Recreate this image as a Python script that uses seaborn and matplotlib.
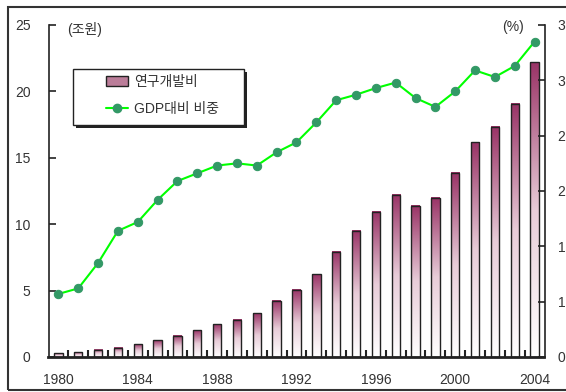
import numpy as np
import pandas as pd
import matplotlib
matplotlib.use('Agg')
import matplotlib.pyplot as plt
import seaborn as sns
from matplotlib.colors import LinearSegmentedColormap
from matplotlib.patches import Rectangle
from matplotlib.lines import Line2D

# Data
years = list(range(1980, 2005))
rd_spend = [0.28, 0.35, 0.53, 0.68, 0.95, 1.25, 1.60, 2.00, 2.46, 2.79,
            3.29, 4.22, 5.07, 6.23, 7.93, 9.49, 10.92, 12.22, 11.39, 12.00,
            13.88, 16.17, 17.34, 19.07, 22.19]
gdp_ratio = [0.57, 0.62, 0.85, 1.14, 1.22, 1.42, 1.59, 1.66, 1.73, 1.75,
             1.73, 1.85, 1.94, 2.12, 2.32, 2.37, 2.43, 2.48, 2.34, 2.26,
             2.40, 2.59, 2.53, 2.63, 2.85]
left_ticks = [0, 5, 10, 15, 20, 25]
right_ticks = [0, 0.5, 1.0, 1.5, 2.0, 2.5, 3.0]
right_ticklabels = ['0', '1', '1', '2', '2', '3', '3']
year_ticks = [1980, 1984, 1988, 1992, 1996, 2000, 2004]
bar_label = '연구개발비'
line_label = 'GDP대비 비중'

df = pd.DataFrame({'year': years, 'rd': rd_spend, 'ratio': gdp_ratio})

sns.set_style('white')
plt.rcParams['font.family'] = ['Liberation Sans', 'Noto Sans CJK KR', 'DejaVu Sans']
txt = '#333333'

fig = plt.figure(figsize=(5.66, 3.92), dpi=100)
ax = fig.add_axes([48.5 / 566, 35 / 392, 496 / 566, 332 / 392])

# bars, then paint a gradient inside each one
sns.barplot(data=df, x='year', y='rd', native_scale=True, width=0.42,
            color='#993366', ax=ax, zorder=3)
cmap = LinearSegmentedColormap.from_list('rd', ['#ffffff', '#e8ccd8', '#993366'])
grad = np.linspace(0, 1, 256).reshape(-1, 1)
for p in ax.patches:
    x0, y0 = p.get_x(), p.get_y()
    w, h = p.get_width(), p.get_height()
    p.set_facecolor('none')
    p.set_edgecolor('#222222')
    p.set_linewidth(1.0)
    ax.imshow(grad, extent=[x0, x0 + w, y0, y0 + h], origin='lower',
              cmap=cmap, aspect='auto', zorder=2, interpolation='bilinear')

ax.set_xlim(1979.5, 2004.5)
ax.set_ylim(0, 25)
ax.set_aspect('auto')
ax.set_yticks(left_ticks)
ax.set_xticks(year_ticks)
ax.set_xticks([y + 0.5 for y in years[:-1]], minor=True)
ax.tick_params(axis='y', direction='in', length=5, width=1.2, pad=13,
               labelsize=10, colors='#222222', labelcolor=txt)
ax.tick_params(axis='x', which='major', length=0, pad=11.5, labelsize=10, labelcolor=txt)
ax.tick_params(axis='x', which='minor', direction='in', length=5, width=1.5,
               colors='#222222', bottom=True)
ax.set_xlabel('')
ax.set_ylabel('')
for s in ['top', 'right']:
    ax.spines[s].set_visible(False)
ax.spines['left'].set_color('#222222')
ax.spines['left'].set_linewidth(1.2)
ax.spines['bottom'].set_color('#222222')
ax.spines['bottom'].set_linewidth(2)

# GDP ratio line on the right axis
ax2 = ax.twinx()
sns.lineplot(data=df, x='year', y='ratio', ax=ax2, color='#00ff00', linewidth=1.5,
             marker='o', markersize=6, markerfacecolor='#339966',
             markeredgecolor='#339966', zorder=4)
ax2.set_ylim(0, 3)
ax2.set_xlim(1979.5, 2004.5)
ax2.set_yticks(right_ticks)
ax2.set_yticklabels(right_ticklabels)
ax2.set_ylabel('')
ax2.tick_params(axis='y', direction='in', length=5, width=1.2, pad=9.5,
                labelsize=10, colors='#222222', labelcolor=txt)
for s in ['top', 'left', 'bottom']:
    ax2.spines[s].set_visible(False)
ax2.spines['right'].set_color('#222222')
ax2.spines['right'].set_linewidth(1.2)

ax.text(0.038, 0.985, '(조원)', transform=ax.transAxes, va='center', ha='left',
        fontsize=10, color=txt)
ax2.text(0.958, 0.994, '(%)', transform=ax2.transAxes, va='center', ha='right',
         fontsize=10, color=txt)

# legend box with a dark drop shadow
lx, ly, lw_, lh = 0.0504, 0.699, 0.3446, 0.1685
ax2.add_patch(Rectangle((lx + 0.005, ly - 0.008), lw_, lh, transform=ax2.transAxes,
                        facecolor='#222222', edgecolor='none', zorder=5, clip_on=False))
ax2.add_patch(Rectangle((lx, ly), lw_, lh, transform=ax2.transAxes,
                        facecolor='white', edgecolor='#222222', linewidth=1, zorder=6,
                        clip_on=False))
handles = [Rectangle((0, 0), 1, 1, facecolor='#bb7d99', edgecolor='#222222', linewidth=1),
           Line2D([], [], color='#00ff00', linewidth=1.5, marker='o', markersize=6,
                  markerfacecolor='#339966', markeredgecolor='#339966')]
leg = ax2.legend(handles, [bar_label, line_label], loc='upper left',
                 bbox_to_anchor=(0.115, 0.85), frameon=False, borderpad=0,
                 borderaxespad=0, handlelength=1.6, handletextpad=0.45,
                 labelspacing=0.95, fontsize=10)
leg.set_zorder(7)
for t in leg.get_texts():
    t.set_color(txt)

# outer frame of the figure
fig.patches.append(Rectangle((8 / 566, 2 / 392), 1.0, 383 / 392, transform=fig.transFigure,
                             facecolor='none', edgecolor='#333333', linewidth=1.5))

fig.savefig('out.png', dpi=100)
